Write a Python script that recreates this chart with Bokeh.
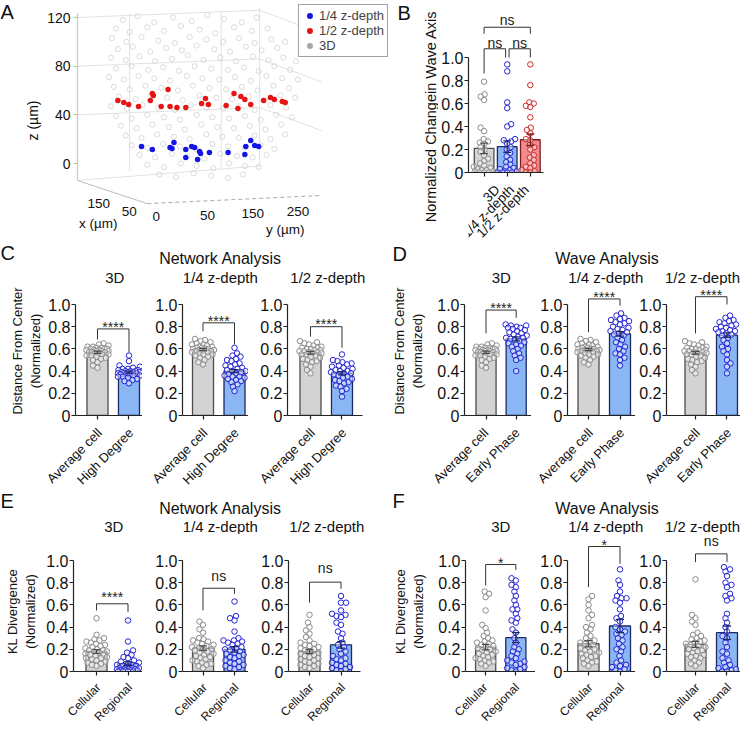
import math
from bokeh.plotting import figure
from bokeh.models import (Range1d, FixedTicker, Spacer, Legend, LegendItem,
                          CustomJSTickFormatter, ColumnDataSource)
from bokeh.layouts import row, column
from bokeh.core.properties import value
from bokeh.embed import file_html
from bokeh.resources import INLINE

FONT = "Liberation Sans"
AX = "#222222"
TXT = "#111111"
GRAY = ("#d3d3d3", "#4d4d4d", "#8c8c8c")
BLUE = ("#8ab6f4", "#1b2a66", "#2424d6")
RED = ("#f28b8b", "#7a1f1f", "#cc2a2a")

# ---------------- panel A data (projected view: horizontal px, z in um) ----------------
CLOUD_X = [118,133,150,169,188,204,221,239,254,
           111,125,143,160,177,196,212,231,249,265,
           107,122,137,154,171,186,203,220,236,252,269,283,
           113,128,146,162,178,193,211,227,243,259,275,
           106,121,135,151,168,184,200,217,233,250,266,281,294,
           111,127,144,159,175,191,208,225,241,256,272,288,
           104,119,134,150,166,183,199,216,232,248,264,280,296,
           109,125,141,157,174,189,206,223,239,255,271,287,
           114,131,147,163,179,196,213,229,246,262,278,293,
           106,122,138,154,171,187,203,220,236,252,268,284,
           111,127,143,160,176,193,209,226,242,258,274,290,
           116,132,148,165,181,198,214,231,247,263,279,
           121,137,153,170,186,203,219,236,252,268,283,
           127,143,159,176,192,209,225,242,258,272,
           135,151,168,184,201,217,234,250,264,
           143,160,177,193,210,226,242,256,
           155,172,190,208,225,240]
CLOUD_Z = [118,121,116,120,117,122,119,116,120,
           111,108,112,109,113,110,107,112,109,111,
           103,100,104,101,99,104,102,100,103,99,102,100,
           94,96,92,95,93,97,94,92,96,93,95,
           87,85,88,84,86,89,85,87,84,88,85,87,84,
           78,80,77,79,76,80,78,77,79,76,80,77,
           71,69,72,70,68,72,70,69,71,68,72,70,69,
           63,61,64,62,60,64,62,61,63,60,64,62,
           55,53,56,54,52,56,54,53,55,52,56,54,
           47,45,48,46,44,48,46,45,47,44,48,46,
           39,37,40,38,36,40,38,37,39,36,40,38,
           31,29,32,30,28,32,30,29,31,28,32,
           23,21,24,22,20,24,22,21,23,20,24,
           15,13,16,14,12,16,14,13,15,12,
           7,5,8,6,4,8,6,5,7,
           -1,-3,0,-2,-4,0,-2,-3,
           -9,-11,-8,-10,-12,-9]
RED_X = [113,119,124,134,146,148,149,157,164,166,173,182,198,202,205,223,231,235,238,242,248,261,268,272,280,283]
RED_Z = [51.8,50.1,48.5,46.8,51.8,57.5,55.9,46.8,60.8,46.8,46.0,46.0,49.3,53.4,48.5,47.7,57.5,45.2,55.1,52.6,48.5,51.8,54.2,52.6,51.0,50.1]
BLUE_X = [137,148,166,168,170,182,182,188,191,194,196,197,206,225,242,243,248,252,256]
BLUE_Z = [14.0,11.5,13.2,12.3,17.3,11.5,4.9,14.0,13.2,3.3,9.9,8.2,9.0,9.0,7.4,14.0,18.9,14.8,14.0]
LEGEND_A = ["1/4 z-depth", "1/2 z-depth", "3D"]
Z_TICKS = [0, 40, 80, 120]
BOX_XS = [[72,257],[72,257],[72,257],[72,257],[257,320],[257,320],[257,320],[125,125],[218,218],[257,257]]
BOX_ZS = [[-14,-2],[40,46],[80,86],[120,126],[46,27],[86,67],[126,107],[-6,124],[-3,126],[-2,128]]
FLOOR_EDGE_X = [72, 143]
FLOOR_EDGE_Z = [-14, -33]
FLOOR_DASH_X = [143, 320]
FLOOR_DASH_Z = [-33, -26.3]
FLOOR_TXT = ["150", "50", "0", "50", "150", "250", "x (µm)", "y (µm)"]
FLOOR_TX = [93.5, 124.5, 152, 204, 250, 296, 93, 283]
FLOOR_TZ = [-32.5, -39.5, -43.6, -42.7, -41.0, -39.5, -49.3, -54.2]

# ---------------- panel B data ----------------
B_GROUPS = ["3D", "1/4 z-depth", "1/2 z-depth"]
B_MEANS = [0.21, 0.225, 0.285]
B_SEMS = [0.045, 0.05, 0.05]
B_PTS_3D = [0.79,0.68,0.66,0.63,0.39,0.36,0.29,0.27,0.26,0.25,0.22,0.20,0.18,0.15,0.12,0.10,0.08,0.06,0.05,0.04,0.03,0.02,0.02,0.01,0.01,0.0,0.0,0.0]
B_PTS_Q = [0.94,0.88,0.61,0.56,0.42,0.40,0.29,0.28,0.27,0.25,0.22,0.20,0.17,0.14,0.11,0.09,0.07,0.05,0.04,0.03,0.02,0.01,0.01,0.0,0.0,0.0,0.0]
B_PTS_H = [0.94,0.76,0.61,0.60,0.58,0.57,0.48,0.39,0.37,0.34,0.29,0.28,0.24,0.22,0.20,0.15,0.13,0.11,0.08,0.06,0.05,0.04,0.02,0.01,0.0,0.0]
B_SIG = [("ns", 0, 2, 1.263, 1.206, 1.206, 1.33),
         ("ns", 0, 0.93, 1.076, 0.86, 1.0, 1.125),
         ("ns", 1.08, 2, 1.076, 1.0, 1.0, 1.125)]
B_YLABEL = "Normalized Changein Wave Axis"

# ---------------- panels C-F data ----------------
SUBTITLES = ["3D", "1/4 z-depth", "1/2 z-depth"]
C_CATS = ["Average cell", "High Degree"]
D_CATS = ["Average cell", "Early Phase"]
EF_CATS = ["Cellular", "Regional"]
CD_YLABEL = "Distance From Center\n(Normalized)"
EF_YLABEL = "KL Divergence\n(Normalized)"

AVG_CELL_3D = [0.65,0.64,0.63,0.62,0.62,0.61,0.61,0.60,0.60,0.60,0.59,0.59,0.59,0.58,0.58,0.58,0.57,0.57,0.57,0.56,0.56,0.55,0.55,0.54,0.54,0.53,0.52,0.51,0.50,0.48,0.45,0.43]
AVG_CELL_Q = [0.69,0.68,0.67,0.66,0.65,0.64,0.64,0.63,0.62,0.62,0.61,0.61,0.60,0.60,0.60,0.59,0.59,0.58,0.58,0.58,0.57,0.57,0.56,0.55,0.55,0.54,0.53,0.52,0.50,0.48,0.46]
AVG_CELL_H = [0.67,0.66,0.65,0.64,0.63,0.62,0.61,0.61,0.60,0.60,0.59,0.59,0.58,0.58,0.57,0.57,0.56,0.56,0.55,0.55,0.54,0.53,0.52,0.51,0.50,0.49,0.48,0.46,0.44,0.41,0.38]
HIGH_DEG_3D = [0.54,0.49,0.45,0.44,0.43,0.42,0.42,0.41,0.41,0.40,0.40,0.40,0.39,0.39,0.39,0.39,0.38,0.38,0.38,0.37,0.37,0.37,0.36,0.36,0.35,0.35,0.34,0.33,0.32,0.31,0.29]
HIGH_DEG_Q = [0.61,0.56,0.54,0.53,0.51,0.50,0.49,0.47,0.46,0.45,0.44,0.43,0.42,0.41,0.40,0.40,0.39,0.38,0.37,0.36,0.35,0.35,0.34,0.33,0.32,0.31,0.30,0.28,0.26,0.22]
HIGH_DEG_H = [0.55,0.50,0.49,0.48,0.47,0.46,0.45,0.44,0.43,0.42,0.41,0.40,0.40,0.39,0.38,0.38,0.37,0.36,0.35,0.34,0.33,0.32,0.31,0.30,0.29,0.27,0.26,0.24,0.22,0.17]
EARLY_3D = [0.82,0.81,0.81,0.80,0.79,0.79,0.78,0.77,0.76,0.75,0.74,0.73,0.72,0.71,0.70,0.70,0.69,0.68,0.67,0.66,0.65,0.64,0.63,0.62,0.60,0.58,0.56,0.54,0.52,0.50,0.40]
EARLY_Q = [0.92,0.90,0.88,0.87,0.86,0.85,0.84,0.83,0.82,0.80,0.79,0.78,0.77,0.76,0.75,0.74,0.73,0.72,0.70,0.68,0.66,0.64,0.62,0.60,0.58,0.56,0.55,0.52,0.50,0.45]
EARLY_H = [0.90,0.88,0.86,0.85,0.84,0.83,0.82,0.81,0.80,0.79,0.78,0.77,0.76,0.76,0.75,0.74,0.73,0.72,0.70,0.68,0.65,0.62,0.60,0.58,0.55,0.50,0.47,0.44,0.38]
CELL_NET_3D = [0.48,0.33,0.30,0.29,0.28,0.27,0.26,0.25,0.24,0.23,0.22,0.21,0.20,0.19,0.19,0.18,0.18,0.17,0.16,0.15,0.15,0.14,0.13,0.12,0.12,0.11,0.10,0.09,0.08,0.07,0.06,0.05]
REG_NET_3D = [0.46,0.27,0.19,0.17,0.15,0.13,0.12,0.10,0.09,0.08,0.07,0.06,0.06,0.05,0.05,0.04,0.04,0.03,0.03,0.03,0.02,0.02,0.02,0.02,0.01,0.01,0.01,0.01,0.00,0.00,0.00,0.00]
CELL_NET_Q = [0.45,0.42,0.38,0.35,0.30,0.29,0.28,0.27,0.26,0.25,0.24,0.23,0.22,0.21,0.20,0.20,0.19,0.18,0.17,0.16,0.15,0.14,0.13,0.12,0.11,0.10,0.09,0.08,0.07,0.06,0.05,0.03]
REG_NET_Q = [0.63,0.50,0.48,0.46,0.36,0.30,0.28,0.28,0.27,0.26,0.25,0.24,0.22,0.21,0.20,0.19,0.18,0.17,0.16,0.15,0.14,0.13,0.12,0.10,0.09,0.08,0.07,0.06,0.05,0.04,0.03,0.02]
CELL_NET_H = [0.51,0.44,0.40,0.37,0.34,0.31,0.28,0.26,0.25,0.24,0.23,0.22,0.21,0.20,0.19,0.18,0.17,0.16,0.15,0.14,0.13,0.12,0.11,0.10,0.09,0.08,0.07,0.06,0.05,0.04,0.03]
REG_NET_H = [0.68,0.62,0.62,0.55,0.52,0.51,0.50,0.49,0.44,0.42,0.36,0.34,0.30,0.26,0.24,0.22,0.20,0.18,0.16,0.14,0.12,0.11,0.10,0.08,0.07,0.06,0.05,0.04,0.03,0.02,0.01,0.00]
CELL_WAVE_3D = [0.72,0.70,0.67,0.55,0.42,0.39,0.35,0.32,0.30,0.28,0.27,0.26,0.25,0.24,0.23,0.22,0.21,0.20,0.19,0.18,0.17,0.16,0.15,0.14,0.13,0.12,0.11,0.10,0.09,0.08,0.07,0.05]
REG_WAVE_3D = [0.84,0.82,0.78,0.76,0.72,0.68,0.64,0.60,0.56,0.56,0.52,0.48,0.46,0.44,0.38,0.35,0.30,0.26,0.22,0.20,0.18,0.16,0.14,0.12,0.10,0.09,0.08,0.07,0.06,0.04,0.03,0.02,0.01,0.00]
CELL_WAVE_Q = [0.68,0.65,0.60,0.55,0.51,0.48,0.42,0.40,0.38,0.35,0.32,0.30,0.28,0.27,0.26,0.25,0.24,0.22,0.21,0.20,0.19,0.18,0.17,0.16,0.15,0.14,0.13,0.12,0.10,0.09,0.08,0.07,0.05]
REG_WAVE_Q = [0.92,0.82,0.78,0.72,0.68,0.66,0.66,0.64,0.62,0.56,0.50,0.48,0.45,0.40,0.38,0.36,0.34,0.33,0.30,0.28,0.25,0.22,0.20,0.18,0.14,0.10,0.08,0.06,0.05,0.04,0.02,0.01,0.00]
CELL_WAVE_H = [0.83,0.51,0.48,0.45,0.42,0.35,0.33,0.32,0.30,0.29,0.28,0.27,0.26,0.25,0.24,0.23,0.22,0.21,0.20,0.19,0.18,0.17,0.16,0.15,0.14,0.13,0.12,0.10,0.08,0.07,0.05]
REG_WAVE_H = [0.94,0.92,0.90,0.86,0.80,0.78,0.76,0.70,0.68,0.66,0.64,0.52,0.48,0.44,0.40,0.36,0.32,0.30,0.26,0.22,0.18,0.16,0.12,0.10,0.08,0.06,0.04,0.03,0.02,0.01,0.00,0.00]

C_MEANS = [[0.57, 0.39], [0.595, 0.40], [0.565, 0.38]]
C_SEMS = [[0.01, 0.01], [0.01, 0.014], [0.012, 0.014]]
D_MEANS = [[0.57, 0.69], [0.595, 0.735], [0.565, 0.725]]
D_SEMS = [[0.01, 0.018], [0.01, 0.02], [0.012, 0.02]]
E_MEANS = [[0.18, 0.07], [0.21, 0.20], [0.18, 0.24]]
E_SEMS = [[0.017, 0.017], [0.02, 0.025], [0.018, 0.03]]
F_MEANS = [[0.22, 0.305], [0.25, 0.41], [0.245, 0.35]]
F_SEMS = [[0.025, 0.045], [0.028, 0.06], [0.027, 0.06]]

C_SIG = [("****", 0.78, 0.685, 0.57, 0.80), ("****", 0.835, 0.76, 0.64, 0.855), ("****", 0.80, 0.71, 0.61, 0.82)]
D_SIG = [("****", 0.95, 0.74, 0.88, 0.97), ("****", 1.05, 0.75, 0.99, 1.07), ("****", 1.07, 0.74, 1.0, 1.09)]
E_SIG = [("****", 0.61, 0.55, 0.535, 0.675), ("ns", 0.75, 0.55, 0.70, 0.856), ("ns", 0.805, 0.62, 0.745, 0.93)]
F_SIG = [("*", 0.964, 0.775, 0.916, 0.975), ("*", 1.126, 0.76, 0.97, 1.14), ("ns", 1.06, 0.985, 0.985, 1.18)]

# ---------------- layout geometry (pixels) ----------------
# subplot: (canvas width, min_border_left, min_border_right, x_range)
C_GEOM = [(98, 31, 0, (-0.698, 1.429)), (106, 40, 0, (-0.651, 1.444)), (124, 39, 10, (-0.730, 1.651))]
D_GEOM = [(97, 27, 0, (-0.714, 1.508)), (104, 36, 0, (-0.667, 1.492)), (105, 31, 0, (-0.921, 1.429))]
E_GEOM = [(100, 31, 0, (-0.730, 1.460)), (106, 40, 0, (-0.651, 1.444)), (122, 40, 10, (-0.667, 1.619))]
F_GEOM = [(100, 27, 0, (-0.667, 1.651)), (100, 32, 0, (-0.667, 1.492)), (105, 31, 0, (-0.921, 1.429))]
LAB_C, LAB_D, LAB_E, LAB_F = (44, 25.5), (62, 36.0), (42, 20.5), (65, 38.5)
MBB = 9
CD_FRAME = 130
EF_FRAME = 137
PPU_Y = 111.0
SUB_X_MAX = 702


def swarm(vals, ppu_x, ppu_y, d=4.6, half=11.0):
    placed = []
    offs = [0.0] * len(vals)
    order = sorted(range(len(vals)), key=lambda i: vals[i])
    steps = int(half / 0.5)
    for n, i in enumerate(order):
        y = vals[i] * ppu_y
        sign = 1 if n % 2 == 0 else -1
        cands = [0.0]
        for k in range(1, steps + 1):
            cands += [sign * k * 0.5, -sign * k * 0.5]
        best, bestd, bestc = None, -1.0, 0.0
        for c in cands:
            md = min((math.hypot(c - px, y - py) for px, py in placed), default=1e9)
            if md >= d:
                best = c
                break
            if md > bestd:
                bestd, bestc = md, c
        if best is None:
            best = bestc
        placed.append((best, y))
        offs[i] = best / ppu_x
    return offs


def new_fig(width, height, xr, yr, mbl, mbr, mbt, mbb, **kw):
    p = figure(width=width, height=height, x_range=Range1d(*xr), y_range=Range1d(*yr),
               min_border_left=mbl, min_border_right=mbr, min_border_top=mbt,
               min_border_bottom=mbb, toolbar_location=None, output_backend="svg",
               outline_line_color=None, background_fill_color="white", **kw)
    p.grid.visible = False
    return p


def text_fig(w, h, items):
    p = figure(width=w, height=h, x_range=Range1d(0, w), y_range=Range1d(h, 0),
               x_axis_type=None, y_axis_type=None, min_border=0, toolbar_location=None,
               output_backend="svg", outline_line_color=None)
    for (txt, x, y, size, align, baseline, angle) in items:
        p.text(x=[x], y=[y], text=[txt], angle=angle, text_align=align, text_baseline=baseline,
               text_font=value(FONT), text_font_size=size, text_color=TXT)
    return p


def style_axis(ax, size):
    ax.axis_line_color = AX
    ax.axis_line_width = 1.2
    ax.major_tick_line_color = AX
    ax.major_tick_line_width = 1.2
    ax.major_tick_out = 4
    ax.major_tick_in = 0
    ax.minor_tick_line_color = None
    ax.major_label_text_font = FONT
    ax.major_label_text_font_size = size
    ax.major_label_text_color = TXT
    ax.major_label_standoff = 1
    ax.axis_label_text_font = FONT
    ax.axis_label_text_font_style = "normal"
    ax.axis_label_text_color = TXT


def bar_panel(width, height, mbl, mbr, mbb, xr, ytop, ncat, means, sems, groups, styles,
              sig, ppu_x=31.5, ppu_y=PPU_Y, bw=0.667):
    p = new_fig(width, height, xr, (0, ytop), mbl, mbr, 0, mbb)
    xs = list(range(ncat))
    p.vbar(x=xs, top=means, bottom=0, width=bw, fill_color=[s[0] for s in styles],
           line_color=[s[1] for s in styles], line_width=1.3)
    for i, vals in enumerate(groups):
        offs = swarm(vals, ppu_x, ppu_y)
        p.scatter(x=[i + o for o in offs], y=vals, marker="circle", size=5.5,
                  line_color=styles[i][2], line_width=1.0, fill_color="white", fill_alpha=0.45)
    cw = 4.0 / ppu_x
    lo = [m - s for m, s in zip(means, sems)]
    hi = [m + s for m, s in zip(means, sems)]
    lc = [s[1] for s in styles]
    p.segment(x0=xs, y0=lo, x1=xs, y1=hi, line_color=lc, line_width=1.3)
    p.segment(x0=[x - cw for x in xs], y0=hi, x1=[x + cw for x in xs], y1=hi, line_color=lc, line_width=1.3)
    p.segment(x0=[x - cw for x in xs], y0=lo, x1=[x + cw for x in xs], y1=lo, line_color=lc, line_width=1.3)
    for (txt, a, b, yb, la, lb, ty) in sig:
        p.line(x=[a, a, b, b], y=[la, yb, yb, lb], line_color="#333333", line_width=1.0)
        p.text(x=[(a + b) / 2], y=[ty], text=[txt], text_align="center", text_baseline="middle",
               text_font=value(FONT), text_font_size="14px", text_color="#222222")
    xa, ya = p.xaxis[0], p.yaxis[0]
    style_axis(xa, "0px")
    style_axis(ya, "16px")
    ya.ticker = FixedTicker(ticks=[0, 0.2, 0.4, 0.6, 0.8, 1.0])
    ya.bounds = (0, 1)
    ya.formatter = CustomJSTickFormatter(code="return tick == 0 ? '0' : tick.toFixed(1);")
    xa.ticker = FixedTicker(ticks=xs)
    xa.formatter = CustomJSTickFormatter(code="return '';")
    xa.major_label_standoff = 0
    return p


def bar_px(canvas_left, geom, i):
    w, l, r, xr = geom
    ppu = (w - l - r) / (xr[1] - xr[0])
    return canvas_left + l + (i - xr[0]) * ppu


# ---------------- Row 1: panels A and B ----------------
figA_letter = text_fig(22, 240, [("A", 0, 0, "20px", "left", "top", 0)])

pA = new_fig(370, 240, (72, 392), (-63.3, 134.0), 50, 0, 0, 0, x_axis_type=None)
pA.multi_line(xs=BOX_XS, ys=BOX_ZS, line_color="#e2e2e2", line_width=1)
pA.line(x=FLOOR_EDGE_X, y=FLOOR_EDGE_Z, line_color="#bdbdbd", line_width=1)
pA.line(x=FLOOR_DASH_X, y=FLOOR_DASH_Z, line_color="#a8a8a8", line_width=1, line_dash="4 3")
cloud_src = ColumnDataSource(dict(x=CLOUD_X, y=CLOUD_Z))
pA.scatter(x="x", y="y", source=cloud_src, marker="circle", size=5.2, fill_color=None,
           line_color="#d2d2d2", line_width=0.8)
r_blue = pA.scatter(x=BLUE_X, y=BLUE_Z, marker="circle", size=5.5, fill_color="#1414e6", line_color=None)
r_red = pA.scatter(x=RED_X, y=RED_Z, marker="circle", size=5.5, fill_color="#e61414", line_color=None)
# legend swatch for the 3D cloud: a filled-dot rendering of the cloud that stays hidden in the plot
r_gray = pA.scatter(x="x", y="y", source=cloud_src, marker="circle", size=5.5,
                    fill_color="#a6a6a6", line_color=None, visible=False)
pA.text(x=FLOOR_TX, y=FLOOR_TZ, text=FLOOR_TXT, text_align="center", text_baseline="middle",
        text_font=value(FONT), text_font_size="13.5px", text_color=TXT)
yaA = pA.yaxis[0]
style_axis(yaA, "14px")
yaA.axis_line_color = "#c8c8c8"
yaA.major_tick_line_color = "#bdbdbd"
yaA.major_tick_line_width = 1
yaA.major_label_standoff = 3
yaA.ticker = FixedTicker(ticks=Z_TICKS)
yaA.bounds = (-14, 123)
yaA.axis_label = "z (µm)"
yaA.axis_label_text_font_size = "14px"
yaA.axis_label_standoff = 3
legend = Legend(items=[LegendItem(label=LEGEND_A[0], renderers=[r_blue]),
                       LegendItem(label=LEGEND_A[1], renderers=[r_red]),
                       LegendItem(label=LEGEND_A[2], renderers=[r_gray])],
                location="top_right", margin=4, padding=3, spacing=0,
                glyph_height=15, glyph_width=15, label_standoff=2,
                label_text_font=FONT, label_text_font_size="13px", label_height=13,
                border_line_color="#444444", border_line_width=1,
                background_fill_color="white", background_fill_alpha=1.0,
                click_policy="none", inactive_fill_alpha=0.0)
pA.add_layout(legend)

figB_label = text_fig(46, 240, [("B", 5, 1, "20px", "left", "top", 0),
                                (B_YLABEL, 38, 116, "14.5px", "center", "middle", math.pi / 2)])
B_GEOM = (122, 28, 17, (-0.675, 2.57))
pB = bar_panel(B_GEOM[0], 172 + MBB, B_GEOM[1], B_GEOM[2], MBB, B_GEOM[3], 172 / 115.0, 3,
               B_MEANS, B_SEMS, [B_PTS_3D, B_PTS_Q, B_PTS_H], [GRAY, BLUE, RED], B_SIG,
               ppu_x=77 / 3.245, ppu_y=115.0, bw=0.85)
footB = text_fig(122, 240 - 172 - MBB,
                 [(B_GROUPS[i], bar_px(0, B_GEOM, i) + 3, 6, "13.5px", "right", "middle", math.pi / 4)
                  for i in range(3)])
row1 = row(figA_letter, pA, figB_label, column(pB, footB), Spacer(width=180, height=240))


# ---------------- Rows for C/D and E/F ----------------
def panel_row(geoms_left, geoms_right, labs, ylabel, label_y, frame_h,
              cats_left, cats_right, means, sems, groups, sigs, cat_font, cat_y,
              title_font="13px"):
    h = frame_h + MBB
    figs, foot_items, sub_items = [], [], []
    x = 0
    for side, (geoms, cats) in enumerate([(geoms_left, cats_left), (geoms_right, cats_right)]):
        lw, lx = labs[side]
        figs.append(text_fig(lw, h, [(ylabel, lx, label_y, title_font, "center", "middle", math.pi / 2)]))
        x += lw
        for k, g in enumerate(geoms):
            idx = side * 3 + k
            figs.append(bar_panel(g[0], h, g[1], g[2], MBB, g[3], frame_h / PPU_Y, 2,
                                  means[idx], sems[idx], groups[idx], [GRAY, BLUE],
                                  [(sigs[idx][0], 0, 1) + tuple(sigs[idx][1:])]))
            for i in range(2):
                foot_items.append((cats[i], bar_px(x, g, i) + 2, cat_y, cat_font, "right", "middle", math.pi / 4))
            sub_items.append((SUBTITLES[k], min(bar_px(x, g, 0.55), SUB_X_MAX)))
            x += g[0]
    return row(*figs), foot_items, sub_items


row2, foot_cd, subs_cd = panel_row(C_GEOM, D_GEOM, [LAB_C, LAB_D], CD_YLABEL, 70, CD_FRAME,
                                   C_CATS, D_CATS, C_MEANS + D_MEANS, C_SEMS + D_SEMS,
                                   [[AVG_CELL_3D, HIGH_DEG_3D], [AVG_CELL_Q, HIGH_DEG_Q], [AVG_CELL_H, HIGH_DEG_H],
                                    [AVG_CELL_3D, EARLY_3D], [AVG_CELL_Q, EARLY_Q], [AVG_CELL_H, EARLY_H]],
                                   C_SIG + D_SIG, "13px", 6)
hCD = text_fig(740, 45, [("C", 0, 12, "20px", "left", "middle", 0),
                         ("Network Analysis", 220, 18, "16px", "center", "middle", 0),
                         ("D", 392, 13, "20px", "left", "middle", 0),
                         ("Wave Analysis", 607, 18, "16px", "center", "middle", 0)]
               + [(t, sx, 36.5, "15px", "center", "middle", 0) for t, sx in subs_cd])
footCD = text_fig(740, 63, foot_cd)

row3, foot_ef, subs_ef = panel_row(E_GEOM, F_GEOM, [LAB_E, LAB_F], EF_YLABEL, 82, EF_FRAME,
                                   EF_CATS, EF_CATS, E_MEANS + F_MEANS, E_SEMS + F_SEMS,
                                   [[CELL_NET_3D, REG_NET_3D], [CELL_NET_Q, REG_NET_Q], [CELL_NET_H, REG_NET_H],
                                    [CELL_WAVE_3D, REG_WAVE_3D], [CELL_WAVE_Q, REG_WAVE_Q], [CELL_WAVE_H, REG_WAVE_H]],
                                   E_SIG + F_SIG, "12px", 4.9)
hEF = text_fig(740, 47, [("E", 0, 13, "20px", "left", "middle", 0),
                         ("Network Analysis", 220, 21, "16px", "center", "middle", 0),
                         ("F", 392, 13, "20px", "left", "middle", 0),
                         ("Wave Analysis", 607, 21, "16px", "center", "middle", 0)]
               + [(t, sx, 38.5, "15px", "center", "middle", 0) for t, sx in subs_ef])
footEF = text_fig(740, 43, foot_ef)

page = column(row1, hCD, row2, footCD, hEF, row3, footEF)
open("out.html", "w").write(file_html(page, INLINE))
